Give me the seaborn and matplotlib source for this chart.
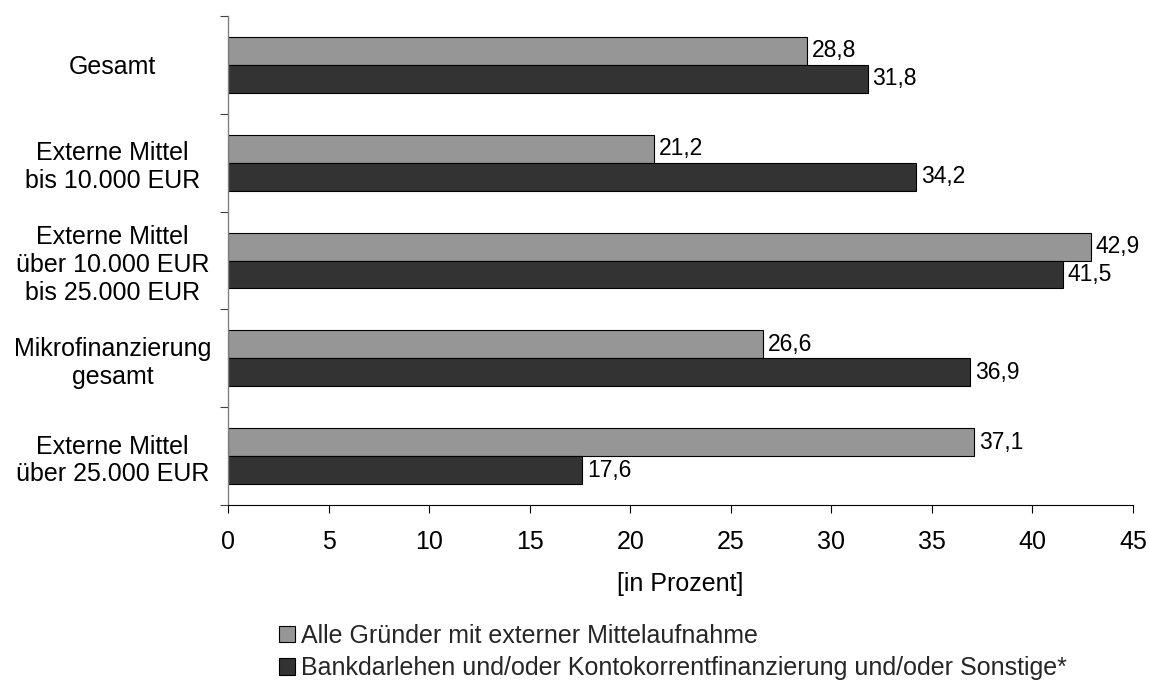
import numpy as np
import pandas as pd
import matplotlib
matplotlib.use("Agg")
import matplotlib.pyplot as plt
import seaborn as sns
from matplotlib.ticker import FixedLocator

# Data
categories = [
    "Gesamt",
    "Externe Mittel\nbis 10.000 EUR",
    "Externe Mittel\nüber 10.000 EUR\nbis 25.000 EUR",
    "Mikrofinanzierung\ngesamt",
    "Externe Mittel\nüber 25.000 EUR",
]
series_names = [
    "Alle Gründer mit externer Mittelaufnahme",
    "Bankdarlehen und/oder Kontokorrentfinanzierung und/oder Sonstige*",
]
alle_gruender = [28.8, 21.2, 42.9, 26.6, 37.1]
bankdarlehen = [31.8, 34.2, 41.5, 36.9, 17.6]
x_ticks = [0, 5, 10, 15, 20, 25, 30, 35, 40, 45]
x_label = "[in Prozent]"

colors = ["#969696", "#333333"]

df = pd.DataFrame({
    "Kategorie": categories * 2,
    "Gruppe": [series_names[0]] * len(categories) + [series_names[1]] * len(categories),
    "Anteil": alle_gruender + bankdarlehen,
})

sns.set_theme(style="ticks")
plt.rcParams["font.family"] = ["Liberation Sans", "DejaVu Sans"]

W, H = 1149, 682
fig = plt.figure(figsize=(W / 100, H / 100), dpi=100)
ax = fig.add_axes([228 / W, 1 - 505 / H, (1133 - 228) / W, (505 - 16) / H])

sns.barplot(
    data=df, y="Kategorie", x="Anteil", hue="Gruppe",
    order=categories, hue_order=series_names, palette=colors,
    saturation=1, width=0.572, edgecolor="black", linewidth=0.8,
    orient="h", ax=ax,
)

ax.set_xlim(0, 45)
ax.set_xticks(x_ticks)
ax.set_ylim(len(categories) - 0.5, -0.5)

# category separators as minor ticks on the y axis
ax.yaxis.set_minor_locator(FixedLocator(np.arange(-0.5, len(categories), 1.0)))
ax.tick_params(axis="y", which="major", length=0, pad=83, labelsize=18, labelcolor="black")
ax.tick_params(axis="y", which="minor", length=5.8, width=0.8, color="#404040", direction="out")
for lbl in ax.get_yticklabels():
    lbl.set_horizontalalignment("center")
    lbl.set_multialignment("center")
ax.tick_params(axis="x", which="major", length=5.8, width=0.8, color="black",
               direction="out", labelsize=18, pad=12, labelcolor="black")

for side in ["top", "right"]:
    ax.spines[side].set_visible(False)
ax.spines["left"].set_color("#808080")
ax.spines["left"].set_linewidth(1.0)
ax.spines["bottom"].set_color("black")
ax.spines["bottom"].set_linewidth(0.8)

ax.set_ylabel("")
ax.set_xlabel(x_label, fontsize=18, labelpad=13, color="black")

# value labels with German decimal comma
for container, vals in zip(ax.containers, [alle_gruender, bankdarlehen]):
    ax.bar_label(container, labels=[f"{v:.1f}".replace(".", ",") for v in vals],
                 padding=3.5, fontsize=16.5, color="black")

# legend below the chart
old = ax.get_legend()
handles = list(old.legend_handles)
labels = [t.get_text() for t in old.get_texts()]
old.remove()
for h, c in zip(handles, colors):
    h.set_facecolor(c)
    h.set_edgecolor("black")
    h.set_linewidth(0.8)
fig.legend(
    handles, labels, loc="center left", bbox_to_anchor=(279 / W, 1 - 652 / H),
    frameon=False, fontsize=18, handlelength=0.64, handleheight=0.64,
    handletextpad=0.24, labelspacing=0.35, borderpad=0, borderaxespad=0,
)

fig.savefig("out.png", dpi=100)
